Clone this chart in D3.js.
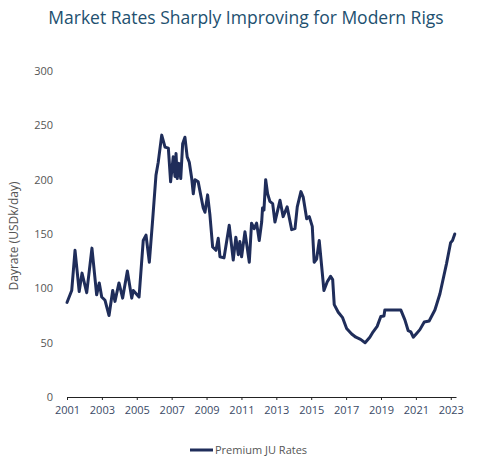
<!DOCTYPE html>
<html>
<head>
<meta charset="utf-8">
<script src="https://cdn.jsdelivr.net/npm/d3@7"></script>
<style>
  html, body { margin: 0; padding: 0; background: #fff; }
  svg { display: block; font-family: "Open Sans", "Noto Sans", sans-serif; }
</style>
</head>
<body>
<svg id="chart" width="499" height="462"></svg>
<script>
const title = "Market Rates Sharply Improving for Modern Rigs";
const yAxisLabel = "Dayrate (USDk/day)";
const seriesName = "Premium JU Rates";
const xTickLabels = [2001, 2003, 2005, 2007, 2009, 2011, 2013, 2015, 2017, 2019, 2021, 2023];
const yTickLabels = [0, 50, 100, 150, 200, 250, 300];

// Decimal year of each observation
const dates = [
  2001.00, 2001.27, 2001.46, 2001.70, 2001.86, 2002.13, 2002.43, 2002.70, 2002.85, 2002.99,
  2003.18, 2003.41, 2003.62, 2003.75, 2003.98, 2004.19, 2004.46, 2004.71, 2004.80, 2005.13,
  2005.37, 2005.53, 2005.72, 2005.91, 2006.10, 2006.23, 2006.43, 2006.62, 2006.81, 2006.94,
  2007.09, 2007.19, 2007.25, 2007.32, 2007.42, 2007.52, 2007.63, 2007.76, 2007.89, 2008.01,
  2008.15, 2008.24, 2008.34, 2008.52, 2008.81, 2008.91, 2009.06, 2009.19, 2009.35, 2009.54,
  2009.67, 2009.77, 2010.00, 2010.30, 2010.53, 2010.68, 2010.82, 2010.91, 2011.01, 2011.20,
  2011.45, 2011.58, 2011.73, 2011.87, 2012.02, 2012.16, 2012.21, 2012.29, 2012.39, 2012.50,
  2012.63, 2012.79, 2012.92, 2013.21, 2013.39, 2013.62, 2013.88, 2014.07, 2014.20, 2014.41,
  2014.54, 2014.74, 2014.89, 2015.06, 2015.17, 2015.31, 2015.46, 2015.73, 2015.92, 2016.11,
  2016.23, 2016.32, 2016.55, 2016.80, 2017.03, 2017.32, 2017.56, 2017.83, 2018.09, 2018.36,
  2018.55, 2018.78, 2018.99, 2019.17, 2019.22, 2020.14, 2020.37, 2020.56, 2020.71, 2020.85,
  2021.04, 2021.23, 2021.48, 2021.76, 2022.09, 2022.38, 2022.76, 2022.99, 2023.10, 2023.23
];
// Premium JU dayrate, USDk/day
const rates = [
  87, 98, 135, 97, 114, 96, 137, 94, 105, 92,
  89, 75, 98, 88, 105, 91, 116, 91, 98, 92,
  144, 149, 124, 163, 204, 216, 241, 230, 229, 198,
  221, 203, 224, 201, 215, 201, 233, 239, 221, 216,
  201, 187, 200, 198, 174, 170, 186, 168, 138, 135,
  146, 129, 128, 158, 126, 147, 131, 143, 129, 152,
  124, 160, 155, 160, 144, 161, 174, 172, 200, 187,
  180, 178, 161, 181, 166, 175, 154, 155, 175, 189,
  184, 164, 166, 157, 124, 127, 144, 98, 106, 111,
  108, 85, 78, 73, 63, 58, 55, 53, 50, 55,
  60, 65, 74, 74.5, 80, 80, 71, 61, 60, 55,
  58.5, 62, 69, 70, 80, 95, 123, 142, 144, 150
];

const data = dates.map((d, i) => ({ x: d, y: rates[i] }));

const svg = d3.select("#chart");

const x = d3.scaleLinear().domain([2001, 2023.3]).range([67, 456]);
const y = d3.scaleLinear().domain([0, 300]).range([397, 71]);

// Title
svg.append("text")
  .attr("x", 246).attr("y", 24)
  .attr("text-anchor", "middle")
  .attr("font-size", 17.5)
  .attr("fill", "#22506f")
  .text(title);

// X axis
const xAxis = d3.axisBottom(x)
  .tickValues(xTickLabels)
  .tickFormat(d3.format("d"))
  .tickSize(3)
  .tickSizeOuter(0);
const gx = svg.append("g").attr("transform", `translate(0,${y(0)})`).call(xAxis);
gx.select(".domain").attr("stroke", "#222").attr("stroke-width", 1);
gx.selectAll(".tick line").attr("stroke", "#222");
gx.selectAll(".tick text").attr("fill", "#3a4a66").attr("font-size", 11).attr("dy", "1.0em")
  .attr("font-family", "\"Open Sans\", sans-serif");

// Y axis (labels only)
const yAxis = d3.axisLeft(y).tickValues(yTickLabels).tickSize(0).tickPadding(14);
const gy = svg.append("g").attr("transform", `translate(67,0)`).call(yAxis);
gy.select(".domain").remove();
gy.selectAll(".tick text").attr("fill", "#555").attr("font-size", 11)
  .attr("font-family", "\"Open Sans\", sans-serif");

// Y axis title
svg.append("text")
  .attr("transform", `translate(18,${(y(0) + y(300)) / 2 + 2}) rotate(-90)`)
  .attr("text-anchor", "middle")
  .attr("font-size", 12)
  .attr("fill", "#555")
  .text(yAxisLabel);

// Line
const line = d3.line().x(d => x(d.x)).y(d => y(d.y)).curve(d3.curveLinear);
svg.append("path")
  .datum(data)
  .attr("d", line)
  .attr("fill", "none")
  .attr("stroke", "#1f2d5a")
  .attr("stroke-width", 3)
  .attr("stroke-linejoin", "round")
  .attr("stroke-linecap", "round");

// Legend
const lg = svg.append("g").attr("transform", "translate(190,450)");
lg.append("line").attr("x1", 0).attr("x2", 23).attr("y1", 0).attr("y2", 0)
  .attr("stroke", "#1f2d5a").attr("stroke-width", 3);
lg.append("text").attr("x", 25).attr("y", 4)
  .attr("font-size", 11).attr("fill", "#555")
  .text(seriesName);
</script>
</body>
</html>
